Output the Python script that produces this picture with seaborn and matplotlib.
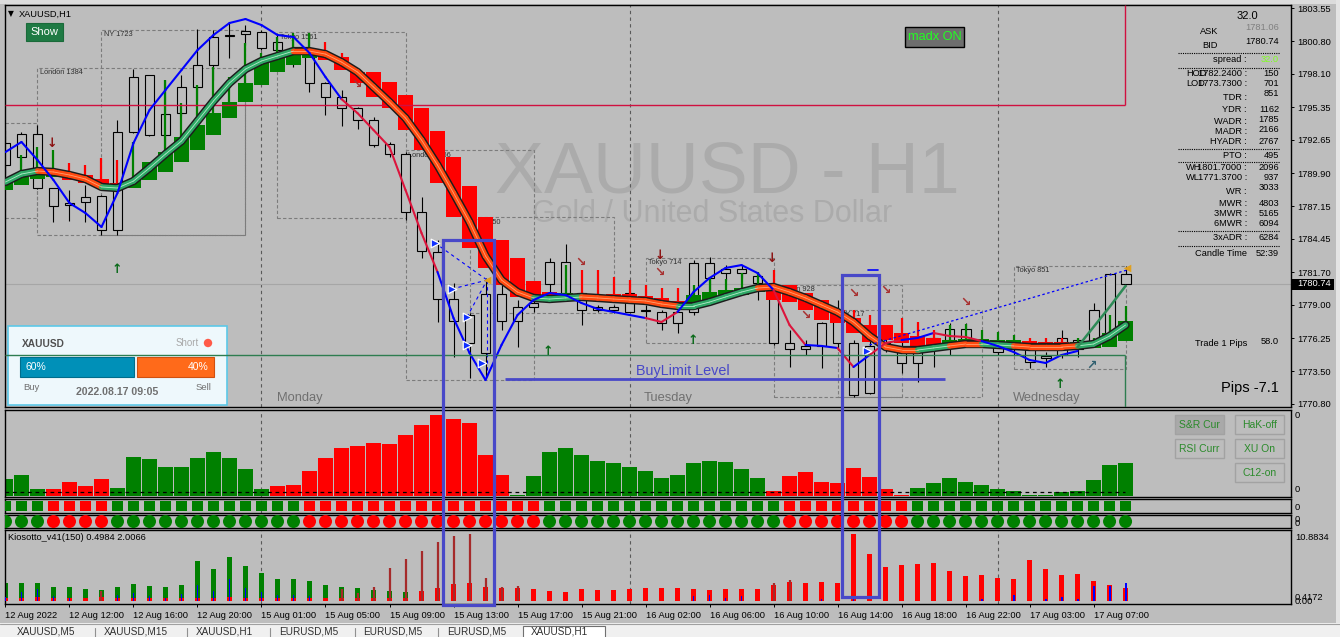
import matplotlib
matplotlib.use("Agg")
import matplotlib.pyplot as plt
import matplotlib.transforms as mtransforms
from matplotlib.patches import Rectangle, Circle
import numpy as np
import pandas as pd
import seaborn as sns

# ---------------------------------------------------------------- data
time_labels = ["12 Aug 2022", "12 Aug 12:00", "12 Aug 16:00", "12 Aug 20:00",
               "15 Aug 01:00", "15 Aug 05:00", "15 Aug 09:00", "15 Aug 13:00",
               "15 Aug 17:00", "15 Aug 21:00", "16 Aug 02:00", "16 Aug 06:00",
               "16 Aug 10:00", "16 Aug 14:00", "16 Aug 18:00", "16 Aug 22:00",
               "17 Aug 03:00", "17 Aug 07:00"]
tick_bars = list(range(0, 69, 4))
day_breaks = [16, 39, 62]
day_names = [("Monday", 18.4), ("Tuesday", 41.4), ("Wednesday", 65.1)]

price_ticks = [1803.55, 1800.80, 1798.10, 1795.35, 1792.65, 1789.90, 1787.15,
               1784.45, 1781.70, 1779.00, 1776.25, 1773.50, 1770.80]
last_price = 1780.74

opens = [1792.38, 1791.23, 1793.13, 1788.66, 1787.26, 1787.50, 1788.00, 1785.19, 1793.29, 1798.01,
         1793.05, 1794.86, 1797.02, 1798.83, 1801.23, 1801.65, 1801.56, 1800.07, 1800.24, 1799.66,
         1797.35, 1796.19, 1795.28, 1794.29, 1792.30, 1791.47, 1786.68, 1783.37, 1779.48, 1778.16,
         1775.02, 1779.90, 1777.66, 1778.82, 1780.72, 1782.54, 1779.98, 1778.82, 1778.57, 1779.98,
         1778.57, 1778.41, 1777.50, 1778.41, 1781.22, 1781.63, 1781.96, 1781.38, 1780.48, 1775.84,
         1775.35, 1775.60, 1778.32, 1775.84, 1771.71, 1775.51, 1775.35, 1774.19, 1775.35, 1776.09,
         1777.00, 1775.93, 1775.68, 1775.35, 1775.43, 1774.60, 1774.85, 1775.35, 1775.68, 1775.68,
         1781.55]
highs = [1793.46, 1793.29, 1793.87, 1788.70, 1788.50, 1788.91, 1788.05, 1794.29, 1798.50, 1798.05,
         1797.59, 1798.01, 1801.81, 1801.73, 1802.31, 1802.14, 1801.73, 1801.32, 1801.07, 1801.23,
         1797.40, 1796.77, 1795.36, 1794.53, 1792.47, 1791.64, 1787.92, 1784.36, 1780.81, 1778.32,
         1781.22, 1780.64, 1779.40, 1779.65, 1782.87, 1784.03, 1780.05, 1778.99, 1778.99, 1780.05,
         1778.99, 1778.57, 1778.57, 1782.71, 1782.96, 1782.29, 1782.29, 1781.72, 1780.64, 1776.92,
         1776.09, 1777.55, 1779.40, 1776.09, 1776.09, 1776.26, 1776.09, 1776.09, 1776.30, 1777.50,
         1777.50, 1776.09, 1775.84, 1776.09, 1775.51, 1775.10, 1776.92, 1776.26, 1779.15, 1781.60,
         1782.21]
lows = [1789.74, 1790.40, 1788.60, 1785.85, 1785.93, 1785.85, 1784.78, 1784.78, 1793.20, 1793.00,
        1792.05, 1794.70, 1795.94, 1797.59, 1799.41, 1800.49, 1800.07, 1799.41, 1798.67, 1796.60,
        1794.70, 1793.79, 1793.54, 1792.05, 1791.23, 1786.02, 1782.87, 1777.58, 1774.69, 1772.95,
        1772.95, 1776.92, 1775.51, 1778.41, 1779.98, 1779.40, 1777.33, 1778.41, 1778.32, 1778.41,
        1777.99, 1776.92, 1776.67, 1778.16, 1780.23, 1781.05, 1781.22, 1779.40, 1775.68, 1773.86,
        1774.85, 1773.78, 1775.26, 1771.38, 1771.60, 1775.10, 1773.36, 1772.62, 1773.86, 1774.85,
        1775.68, 1775.51, 1774.85, 1774.85, 1773.78, 1773.86, 1774.60, 1774.69, 1775.60, 1775.60,
        1780.74]
closes = [1790.56, 1793.13, 1788.66, 1787.17, 1787.42, 1787.92, 1785.19, 1793.29, 1797.84, 1793.05,
          1794.78, 1797.02, 1798.83, 1801.15, 1801.32, 1801.40, 1800.24, 1800.74, 1799.91, 1797.35,
          1796.19, 1795.28, 1794.29, 1792.22, 1791.47, 1786.68, 1783.45, 1779.48, 1777.66, 1775.84,
          1779.90, 1777.66, 1778.82, 1779.15, 1782.54, 1779.98, 1778.57, 1778.57, 1778.82, 1778.41,
          1778.49, 1777.50, 1778.41, 1782.46, 1782.46, 1781.96, 1781.63, 1780.81, 1775.84, 1775.35,
          1775.60, 1777.50, 1775.84, 1771.54, 1775.60, 1775.84, 1774.19, 1775.35, 1776.26, 1777.00,
          1775.93, 1775.68, 1775.10, 1775.84, 1774.27, 1774.77, 1776.26, 1776.09, 1778.57, 1781.55,
          1780.74]

# smoothed heiken-ashi blocks
ha_top = [1789.16, 1789.57, 1789.90, 1790.15, 1789.90, 1789.74, 1789.41, 1789.08, 1789.32, 1790.81,
          1791.64, 1792.88, 1793.87, 1794.86, 1795.77, 1797.35, 1799.08, 1799.41, 1799.83, 1799.83,
          1799.83, 1799.50, 1798.26, 1798.26, 1797.43, 1796.35, 1795.28, 1793.38, 1791.23, 1788.83,
          1786.26, 1784.36, 1782.87, 1780.97, 1780.06, 1779.98, 1779.81, 1779.81, 1779.90, 1779.90,
          1779.73, 1779.57, 1779.32, 1779.81, 1780.06, 1780.23, 1780.39, 1780.39, 1780.64, 1780.64,
          1779.98, 1779.40, 1778.57, 1777.91, 1777.33, 1777.33, 1776.67, 1776.42, 1776.26, 1776.09,
          1776.17, 1776.17, 1776.09, 1776.09, 1776.01, 1775.93, 1775.93, 1775.93, 1775.93, 1776.67,
          1777.66]
ha_bot = [1788.50, 1788.91, 1789.41, 1789.57, 1789.32, 1789.08, 1788.91, 1788.66, 1788.66, 1789.32,
          1789.99, 1790.81, 1791.80, 1793.05, 1794.45, 1795.77, 1797.18, 1798.26, 1798.83, 1799.41,
          1799.25, 1798.42, 1797.35, 1796.19, 1795.28, 1793.46, 1791.80, 1789.08, 1786.26, 1783.70,
          1782.05, 1780.64, 1779.65, 1779.65, 1779.40, 1779.65, 1779.57, 1779.57, 1779.57, 1779.48,
          1779.40, 1779.15, 1778.99, 1779.23, 1779.40, 1779.57, 1779.81, 1780.06, 1779.40, 1779.23,
          1778.57, 1777.75, 1777.50, 1776.67, 1775.93, 1776.09, 1775.84, 1775.43, 1775.51, 1775.60,
          1775.68, 1775.76, 1775.68, 1775.68, 1775.60, 1775.51, 1775.51, 1775.51, 1775.43, 1775.51,
          1776.01]
ha_wick = [1789.16, 1791.39, 1792.05, 1791.80, 1790.73, 1790.56, 1791.14, 1790.98, 1792.47, 1790.81,
           1797.59, 1795.69, 1797.18, 1798.67, 1797.84, 1800.65, 1799.83, 1801.15, 1801.48, 1801.48,
           1800.74, 1799.83, 1798.26, 1798.26, 1797.43, 1796.35, 1795.28, 1793.38, 1791.23, 1788.83,
           1786.26, 1784.36, 1782.87, 1780.97, 1780.06, 1782.29, 1781.88, 1781.88, 1781.30, 1781.05,
           1780.64, 1780.39, 1780.39, 1780.64, 1781.30, 1781.14, 1781.63, 1781.72, 1781.88, 1780.64,
           1779.98, 1779.40, 1778.57, 1778.57, 1778.16, 1777.33, 1777.91, 1777.58, 1776.92, 1777.33,
           1777.42, 1776.92, 1776.75, 1776.51, 1776.26, 1776.26, 1776.26, 1776.26, 1776.26, 1778.16,
           1778.90]
ha_dir = list("GGGGRRRRGGGGGGGGGGGGRRRRRRRRRRRRRRRGRRRRRRRGGGGGRRRRRRRRRRRGGGGGRRRGGGG")

# thick moving-average band
ma_vals = [1789.16, 1789.82, 1790.07, 1789.99, 1789.74, 1789.41, 1788.75, 1788.66, 1789.24, 1790.32,
           1791.47, 1792.55, 1794.20, 1795.86, 1797.35, 1798.50, 1799.17, 1799.58, 1799.99, 1799.99,
           1799.74, 1799.08, 1798.26, 1797.02, 1795.77, 1794.45, 1792.63, 1790.56, 1788.25, 1785.85,
           1783.04, 1781.05, 1780.06, 1779.57, 1779.48, 1779.57, 1779.65, 1779.57, 1779.48, 1779.40,
           1779.32, 1779.07, 1778.90, 1778.90, 1779.23, 1779.65, 1780.06, 1780.39, 1780.48, 1780.06,
           1779.57, 1778.99, 1778.41, 1777.58, 1776.42, 1775.51, 1775.26, 1775.26, 1775.43, 1775.60,
           1775.76, 1775.76, 1775.68, 1775.60, 1775.51, 1775.51, 1775.51, 1775.60, 1775.76, 1776.42,
           1777.33]
ma_trend = list("GGRRRRGGGGGGGGGGGGRRRRRRRRRRRRRRRGGGRRRRRRGGGGGRRRRRRRRRRGGRRGGRRRRGGG")

# blue / crimson signal line
sig_vals = [1791.64, 1792.47, 1790.98, 1789.32, 1787.42, 1786.59, 1785.44, 1788.25, 1792.38, 1795.11,
            1796.77, 1798.42, 1800.07, 1801.32, 1802.31, 1802.64, 1802.14, 1801.32, 1801.15, 1799.83,
            1797.84, 1796.02, 1794.86, 1793.46, 1792.05, 1788.50, 1784.94, 1781.72, 1777.91, 1775.02,
            1772.78, 1775.68, 1778.16, 1779.40, 1779.98, 1779.81, 1779.15, 1778.66, 1778.41, 1778.16,
            1777.91, 1777.58, 1778.41, 1780.06, 1781.22, 1782.05, 1782.29, 1781.63, 1780.23, 1777.33,
            1775.68, 1775.60, 1775.43, 1773.86, 1774.85, 1775.84, 1776.09, 1776.26, 1776.67, 1776.42,
            1776.34, 1776.01, 1775.60, 1775.10, 1774.44, 1774.19, 1774.85, 1775.18]
sig_col = list("BBBBBBBBBBBBBBBBBBBBBRRRRRRBBBBBBBBBBBBBRRBBBBBBRRBBRBRRBBRRRBBBBBB")
tail_bars = [67, 68, 69, 70]
tail_vals = [1775.51, 1777.17, 1778.82, 1780.56]
proj_bars = [54.0, 70.1]
proj_vals = [1775.68, 1781.88]

# session boxes: (label, bar_start, bar_end, price_top, price_bottom)
sessions = [("", -0.03, 1.97, 1794.04, 1786.18),
            ("London 1384", 2.0, 15.0, 1798.59, 1784.78),
            ("NY 1723", 6.0, 15.0, 1801.73, 1784.78),
            ("Tokyo 1561", 17.0, 25.0, 1801.56, 1786.18),
            ("London 1356", 25.0, 33.0, 1791.80, 1772.78),
            ("NY 1250", 29.0, 38.0, 1786.26, 1778.32),
            ("Tokyo 714", 40.0, 48.0, 1782.87, 1775.84),
            ("London 928", 48.0, 56.0, 1780.64, 1771.38),
            ("NY 717", 52.0, 61.0, 1778.57, 1771.38),
            ("Tokyo 851", 63.0, 70.0, 1782.21, 1773.69)]

# arrows: (glyph, bar, price, colour)
arrows = [("↓", 2.91, 1792.38, "#8b1010"), ("↘", 21.97, 1797.26, "#a83030"),
          ("↘", 35.97, 1782.54, "#a83030"), ("↓", 40.9, 1783.04, "#8b1010"),
          ("↘", 40.9, 1781.72, "#a83030"), ("↓", 47.9, 1782.87, "#8b1010"),
          ("↘", 49.97, 1778.16, "#a83030"), ("↘", 52.97, 1779.98, "#a83030"),
          ("↘", 54.97, 1780.23, "#a83030"), ("↘", 60.0, 1779.23, "#a83030"),
          ("↑", 6.97, 1781.96, "#0a6a1a"), ("↑", 33.9, 1775.10, "#0a6a1a"),
          ("↑", 42.97, 1776.09, "#0a6a1a"), ("↑", 65.9, 1772.37, "#0a6a1a"),
          ("↗", 67.9, 1774.02, "#2f5f6f")]
entry_bars = [26.84, 27.9, 28.84, 28.84, 29.78, 53.84]
entry_vals = [1784.12, 1780.31, 1777.99, 1775.68, 1774.19, 1775.18]
target_bars = [30.1, 70.1]
target_vals = [1781.05, 1782.05]

red_level = 1795.53
green_level = 1774.85
level_end_bar = 69.97
buylimit_level = 1772.87
buylimit_bars = [31.2, 58.7]

# sub-window 1 histogram
hist_vals = [17, 21, 7, 7, 14, 10, 17, 8, 39, 37, 29, 29, 38, 44, 38, 27, 7, 10, 11, 25,
             38, 48, 50, 53, 52, 61, 71, 81, 77, 73, 41, 21, 1, 20, 44, 48, 41, 35, 33, 29,
             25, 18, 21, 33, 35, 34, 27, 18, 5, 20, 24, 14, 13, 28, 19, 7, 1, 8, 13, 18,
             14, 11, 7, 5, 1, 1, 4, 5, 16, 31, 33]
hist_dir = list("GGGRRRRGGGGGGGGGGRRRRRRRRRRRRRRRGGGGGGGGGGGGGGGGRRRRRRRRRGGGGGGGGGGGGGG")
hist_signal = 4
# sub-windows 2 and 3
square_dir = list("GGGRRRRGGGGGGGGGGGGRRRRRRRRRRRRRRRGGGGGGGGGGGGGGGRRRRRRRRGGGGGGGGGGGGGG")
circle_dir = list("GGGRRRRGGGGGGGGGGGGRRRRRRRRRRRRRRRGGGGGGGGGGGGGGGRRRRRRRRGGGGGGGGGGGGGG")
# sub-window 4 Kiosotto
kio_green = [3.05, 3.05, 3.05, 2.35, 2.35, 2.0, 1.83, 2.35, 2.88, 2.53, 2.35, 2.70, 6.89,
             5.49, 7.59, 6.02, 4.80, 3.75, 3.75, 3.40, 2.70, 2.35, 2.18, 1.83, 1.66, 1.48]
kio_red = [0.5, 0.5, 0.55, 0.5, 0.5, 0.5, 0.55, 0.5, 0.5, 0.5, 0.5, 0.5, 0.5, 0.5, 0.55, 0.5,
           0.5, 0.5, 0.5, 0.5, 0.5, 0.5, 0.5, 0.5, 0.5, 0.5,
           1.66, 2.18, 2.88, 3.05, 2.35, 2.18, 2.18, 2.0, 1.66, 1.48, 2.0, 1.83, 1.83, 2.0, 2.18,
           2.18, 2.18, 2.0, 1.83, 2.0, 2.0, 2.0, 2.70, 3.23, 3.05, 3.23, 3.05, 11.6, 8.11, 5.84,
           6.19, 6.37, 6.54, 5.14, 4.27, 4.45, 3.92, 3.75, 7.06, 5.49, 4.45, 4.62, 3.40, 2.70, 2.18]
kio_blue = [0.61, 1.48, 2.0, 0.78, 0.5, 0.0, 0.0, 0.96, 1.31, 0.78,
            0.5, 1.13, 2.70, 1.66, 3.75, 2.18, 1.48, 0.96, 0.96, 0.78,
            0.0, 0.0, 0.0, 0.0, 0.3, 0.3, 0.3, 0.3, 0.3, 0.3,
            0.3, 0.3, 0.0, 0.0, 0.0, 0.0, 0.0, 0.0, 0.0, 0.0,
            0.0, 0.0, 0.0, 0.78, 0.96, 0.5, 0.78, 0.0, 0.3, 0.3,
            0.0, 0.3, 0.0, 0.3, 0.0, 0.0, 0.0, 0.0, 0.0, 0.0,
            0.0, 0.3, 0.0, 0.96, 0.0, 0.3, 0.7, 0.3, 2.53, 2.53, 3.05]
brown_bars = [6, 21, 22, 23, 24, 25, 26, 27, 28, 29, 30, 31, 32, 48, 49]
brown_vals = [1.66, 2.0, 1.31, 2.35, 5.67, 7.24, 8.63, 10.2, 11.25, 11.6, 3.92, 2.35, 2.53, 3.05, 3.58]

info_rows = [("HOD", "1782.2400 :", "150", 74, 74), ("LOD", "1773.7300 :", "701", 84, 84),
             ("", "TDR :", "851", 97, 93), ("", "YDR :", "1162", 109, 109),
             ("", "WADR :", "1785", 121, 120), ("", "MADR :", "2166", 131, 130),
             ("", "HYADR :", "2767", 142, 141), ("", "PTO :", "495", 155, 155),
             ("WH", "1801.7000 :", "2096", 167, 167), ("WL", "1771.3700 :", "937", 178, 178),
             ("", "WR :", "3033", 191, 188), ("", "MWR :", "4803", 203, 203),
             ("", "3MWR :", "5165", 213, 213), ("", "6MWR :", "6094", 224, 224),
             ("", "3xADR :", "6284", 238, 238)]

# ---------------------------------------------------------------- style
sns.set_theme(style="white")
plt.rcParams['font.family'] = ['Liberation Sans', 'DejaVu Sans']
plt.rcParams.update({'text.color': 'black', 'xtick.color': 'black', 'ytick.color': 'black',
                     'axes.edgecolor': 'black'})

W, H = 1340, 637
BG = '#bdbdbd'
GREEN, RED = '#008000', '#ff0000'
BOXBLUE = '#4848c8'
FS = 6.7

fig = plt.figure(figsize=(W / 100, H / 100), dpi=100)
fig.patch.set_facecolor(BG)


def axrect(x0, y0, x1, y1):
    return [x0 / W, 1 - y1 / H, (x1 - x0) / W, (y1 - y0) / H]


XL = (-0.03, 80.34)
ax = fig.add_axes(axrect(5, 5, 1291, 407))
ax_h = fig.add_axes(axrect(5, 410, 1291, 497))
ax_s = fig.add_axes(axrect(5, 499, 1291, 513))
ax_c = fig.add_axes(axrect(5, 515, 1291, 528))
ax_k = fig.add_axes(axrect(5, 530, 1291, 604))
ov = fig.add_axes([0, 0, 1, 1], zorder=10)
ov.set_xlim(0, W)
ov.set_ylim(H, 0)
ov.axis('off')
ov.patch.set_visible(False)

for a in (ax, ax_h, ax_s, ax_c, ax_k):
    a.set_facecolor(BG)
    a.set_xlim(*XL)
    for s in a.spines.values():
        s.set_color('black')
        s.set_linewidth(1.0)
    a.set_xticks([])
    a.set_yticks([])
    for b in day_breaks:
        a.axvline(b, color='#5a5a5a', lw=0.8, ls=(0, (3, 3)), zorder=1)

idx = np.arange(len(opens))
o, h, l, c = map(np.array, (opens, highs, lows, closes))

# ---------------------------------------------------------------- main window
ax.set_ylim(1770.55, 1803.80)
ax.set_yticks(price_ticks)
ax.set_yticklabels([f"{p:.2f}" for p in price_ticks])
ax.tick_params(axis='y', left=False, labelleft=False, right=True, labelright=True,
               direction='out', length=2.2, width=0.7, pad=2, labelsize=FS)

ax.text(0.5614, 0.5348, "XAUUSD - H1", transform=ax.transAxes, ha='center', va='baseline',
        fontsize=52.8, color='#ababab', zorder=0.5)
ax.text(0.5498, 0.4602, "Gold / United States Dollar", transform=ax.transAxes, ha='center',
        va='baseline', fontsize=22, color='#ababab', zorder=0.5)

for name, b in day_names:
    ax.text(b, 1771.30, name, ha='center', va='center', fontsize=9.3, color='#707070', zorder=1)

for lab, b0, b1, pt, pb in sessions:
    ax.add_patch(Rectangle((b0, pb), b1 - b0, pt - pb, fill=False, ec='#7c7c7c', lw=0.8,
                           ls=(0, (3, 2)), zorder=1))
    if lab:
        ax.text(b0 + 0.15, pt - 0.12, lab, ha='left', va='top', fontsize=5.3,
                color='#303030', zorder=1.5)

ax.axhline(last_price, color='#a6a6a6', lw=0.8, zorder=1.2)
ax.hlines(red_level, XL[0], level_end_bar, colors='#d01040', lw=1.0, zorder=4.5)
ax.vlines(level_end_bar, red_level, 1803.8, colors='#d01040', lw=1.0, zorder=4.5)
ax.hlines(green_level, XL[0], level_end_bar, colors='#2e7d50', lw=1.0, zorder=21)
ax.vlines(level_end_bar, 1770.55, green_level, colors='#2e7d50', lw=1.0, zorder=21)

# candles (hollow)
ax.vlines(idx, l, h, colors='black', lw=0.8, zorder=2)
body_lo = np.minimum(o, c)
body_h = np.maximum(np.abs(c - o), 0.04)
ax.bar(idx, body_h, bottom=body_lo, width=0.62, facecolor=BG, edgecolor='black', lw=0.8, zorder=2.1)

# heiken ashi blocks
ha_colors = [GREEN if d == 'G' else RED for d in ha_dir]
ax.vlines(idx, ha_top, ha_wick, colors=ha_colors, lw=1.6, zorder=3)
ax.bar(idx, np.array(ha_top) - np.array(ha_bot), bottom=ha_bot, width=0.9, color=ha_colors,
       lw=0, zorder=3.1)

# MA band
ma = np.array(ma_vals)
sns.lineplot(x=idx, y=ma, ax=ax, color='#1c1c1c', lw=6.0, zorder=5, estimator=None,
             sort=False, solid_capstyle='round')
for i, tr in enumerate(ma_trend):
    col, lite = ('#2fa866', '#b4ecca') if tr == 'G' else ('#ff4a10', '#ffa070')
    ax.plot([i, i + 1], [ma[i], ma[i + 1]], color=col, lw=3.9, zorder=6, solid_capstyle='round')
    ax.plot([i, i + 1], [ma[i], ma[i + 1]], color=lite, lw=0.6, zorder=7)

# signal line
sv = np.array(sig_vals)
for i, tr in enumerate(sig_col):
    ax.plot([i, i + 1], [sv[i], sv[i + 1]], color='#0000ff' if tr == 'B' else '#dc143c',
            lw=1.5, zorder=8, solid_capstyle='round')
sns.lineplot(x=tail_bars, y=tail_vals, ax=ax, color='#2e8b57', lw=1.8, zorder=8, estimator=None)
ax.plot(proj_bars, proj_vals, color='#0000ff', lw=0.9, ls=(0, (2, 2)), zorder=8)
for k in (0, 1, 2):
    ax.plot([entry_bars[k], target_bars[0]], [entry_vals[k], target_vals[0]],
            color='#0000ff', lw=0.8, ls=(0, (3, 3)), zorder=8)
ax.plot([target_bars[0], target_bars[0]], [target_vals[0], sv[30]], color='#0000ff', lw=0.8,
        ls=(0, (3, 3)), zorder=8)
ax.scatter(entry_bars, entry_vals, marker='>', s=38, c='#1030ff', edgecolors='white',
           linewidths=0.9, zorder=9)
ax.scatter(target_bars, target_vals, marker='<', s=30, c='#e0a020', linewidths=0, zorder=9)

for g, b, p, col in arrows:
    ax.text(b, p, g, ha='center', va='center', fontsize=9, color=col, fontweight='bold',
            family='DejaVu Sans', zorder=9)

ax.hlines(buylimit_level, buylimit_bars[0], buylimit_bars[1], colors=BOXBLUE, lw=2.0, zorder=8.5)
ax.text(42.3, buylimit_level + 0.66, "BuyLimit Level", ha='center', va='center',
        fontsize=10.4, color=BOXBLUE, zorder=8.5)

# sentiment widget (pixel positioned)
T = ov.transData
ax.add_patch(Rectangle((8, 326), 219, 79, transform=T, fc='#eef8fc', ec='#5cc8e8', lw=1.2, zorder=20))
ax.add_patch(Rectangle((20, 357), 114, 20, transform=T, fc='#0090b8', ec='#006d8c', lw=0.8, zorder=20.5))
ax.add_patch(Rectangle((137, 357), 77, 20, transform=T, fc='#ff6a1a', ec='#d05010', lw=0.8, zorder=20.5))
ax.add_patch(Circle((208, 343), 4.2, transform=T, fc='#ff5a48', ec='none', zorder=20.5))
wtxt = [(22, 344, "XAUUSD", 'left', 7.3, '#505050', 'bold'),
        (199, 343, "Short", 'right', 7.0, '#a8a8a8', 'normal'),
        (25, 367, "60%", 'left', 7.5, 'white', 'normal'),
        (209, 367, "40%", 'right', 7.5, 'white', 'normal'),
        (23, 387, "Buy", 'left', 6.8, '#707070', 'normal'),
        (211, 387, "Sell", 'right', 6.8, '#707070', 'normal'),
        (117, 392, "2022.08.17 09:05", 'center', 7.6, '#707070', 'bold')]
for x, y, s, ha, fs, col, fw in wtxt:
    ax.text(x, y, s, transform=T, ha=ha, va='center', fontsize=fs, color=col, fontweight=fw, zorder=22)

# ---------------------------------------------------------------- histogram window
ax_h.set_ylim(-1.5, 86)
ax_h.bar(idx, hist_vals, width=0.92, color=[GREEN if d == 'G' else RED for d in hist_dir],
         lw=0, zorder=2)
ax_h.hlines(hist_signal, XL[0], level_end_bar, colors='black', lw=0.9, linestyles=(0, (3, 3)), zorder=3)

# ---------------------------------------------------------------- dot rows
row_df = pd.DataFrame({'bar': idx, 'row': 0.5, 'sq': square_dir, 'ci': circle_dir})
pal = {'G': GREEN, 'R': RED}
sns.scatterplot(data=row_df, x='bar', y='row', hue='sq', palette=pal, marker='s', s=62,
                linewidth=0, legend=False, ax=ax_s, zorder=3)
sns.scatterplot(data=row_df, x='bar', y='row', hue='ci', palette=pal, marker='o', s=88,
                linewidth=0, legend=False, ax=ax_c, zorder=3)
for a in (ax_s, ax_c):
    a.set_ylim(0, 1)
    a.set_xlim(*XL)
    a.set_xlabel('')
    a.set_ylabel('')
    a.set_xticks([])
    a.set_yticks([])

# ---------------------------------------------------------------- Kiosotto window
ax_k.set_ylim(-0.6, 12.3)
ax_k.bar(idx[:len(kio_green)], kio_green, width=0.32, color=GREEN, lw=0, zorder=2)
ax_k.bar(idx, kio_red, width=0.31, color=RED, lw=0, zorder=3)
ax_k.bar(idx, kio_blue, width=0.12, color='#0000ff', lw=0, zorder=4)
ax_k.vlines(brown_bars, 0, brown_vals, colors='#a52a2a', lw=1.6, zorder=5)
ax_k.set_xticks(tick_bars)
ax_k.set_xticklabels(time_labels, ha='left', fontsize=FS)
ax_k.tick_params(axis='x', bottom=True, direction='out', length=2.2, width=0.7, pad=2.5)

# ---------------------------------------------------------------- overlay (texts, buttons, boxes)
def t(x, y, s, ha='left', fs=FS, col='black', **kw):
    ov.text(x, y, s, ha=ha, va='center', fontsize=fs, color=col, **kw)


ov.add_patch(Rectangle((0, 0), W, 4, fc='#dcdcdc', ec='none'))
ov.add_patch(Rectangle((1336, 0), 4, 623, fc='#e4e4e4', ec='none'))
t(8, 14, "▼", fs=5.5, family='DejaVu Sans')
t(19, 14, "XAUUSD,H1")
ov.add_patch(Rectangle((26, 23), 37, 18, fc='#1f7a44', ec='#1a6a3a', lw=0.8))
t(44.5, 32, "Show", ha='center', fs=8, col='white')
ov.add_patch(Rectangle((905, 27), 59, 20, fc='#6e6e6e', ec='black', lw=1.0))
t(934.5, 37, "madx ON", ha='center', fs=9.2, col='#22ff22')

# info panel
t(1247, 16, "32.0", ha='center', fs=8)
t(1200, 32, "ASK")
t(1279, 27, "1781.06", ha='right', col='#808080')
t(1202, 46, "BID")
t(1279, 42, "1780.74", ha='right')
t(1247, 60, "spread :", ha='right')
t(1279, 60, "32.0", ha='right', col='#80ff20')
for yy in (53, 68, 149, 162, 231, 246):
    ov.plot([1178, 1280], [yy, yy], color='black', lw=0.8, ls=(0, (1, 1)))
for pre, lab, val, yl, yv in info_rows:
    if pre:
        t(1186, yl, pre)
    t(1247, yl, lab, ha='right')
    t(1279, yv, val, ha='right')
t(1195, 254, "Candle Time")
t(1279, 254, "52:39", ha='right')
t(1195, 343, "Trade 1 Pips")
t(1279, 342, "58.0", ha='right')
t(1279, 388, "Pips -7.1", ha='right', fs=10.5)

# last price tag
ov.add_patch(Rectangle((1292, 278.5), 42, 11, fc='black', ec='none'))
t(1297, 284, f"{last_price:.2f}", col='white')

# sub-window scale labels
for s, y in [("0", 416), ("0", 490), ("0", 507), ("0", 519), ("0", 523),
             ("10.8834", 537), ("0.4172", 597), ("0.00", 601)]:
    t(1295, y, s)
t(8, 538, "Kiosotto_v41(150) 0.4984 2.0066")

# sub-window buttons
for lab, x, y, fc in [("S&R Cur", 1175, 415, '#a9a9a9'), ("HaK-off", 1235, 415, BG),
                      ("RSI Curr", 1175, 439, BG), ("XU On", 1235, 439, BG),
                      ("C12-on", 1235, 463, BG)]:
    ov.add_patch(Rectangle((x, y), 49, 19, fc=fc, ec='#a2a2a2', lw=1.0))
    t(x + 24.5, y + 9.5, lab, ha='center', fs=7.5, col='#2a8a2a')

# hand-drawn blue boxes (bar units horizontally)
TB = mtransforms.blended_transform_factory(ax.transData, ov.transData)
for b0, b1, y0, y1 in [(27.34, 30.53, 240, 605), (52.28, 54.59, 275, 597)]:
    ov.add_patch(Rectangle((b0, y0), b1 - b0, y1 - y0, transform=TB, fill=False,
                           ec=BOXBLUE, lw=2.3, zorder=30))
ov.plot([53.9, 54.5], [270, 270], transform=TB, color='#0000ff', lw=1.2)

# terminal tabs
ov.add_patch(Rectangle((0, 623), W, 14, fc='#f0f0f0', ec='none'))
ov.plot([0, W], [623.5, 623.5], color='#a0a0a0', lw=0.8)
ov.add_patch(Rectangle((523, 626), 82, 12, fc='white', ec='#707070', lw=0.8))
for xs in (95, 187, 270, 355, 438):
    ov.plot([xs, xs], [628, 637], color='#909090', lw=0.8)
for x, s in [(17, "XAUUSD,M5"), (104, "XAUUSD,M15"), (196, "XAUUSD,H1"), (279, "EURUSD,M5"),
             (363, "EURUSD,M5"), (447, "EURUSD,M5"), (531, "XAUUSD,H1")]:
    ov.text(x, 631.5, s, ha='left', va='center', fontsize=7.2, color='#303030')

fig.savefig("out.png", dpi=100, facecolor=fig.get_facecolor())
